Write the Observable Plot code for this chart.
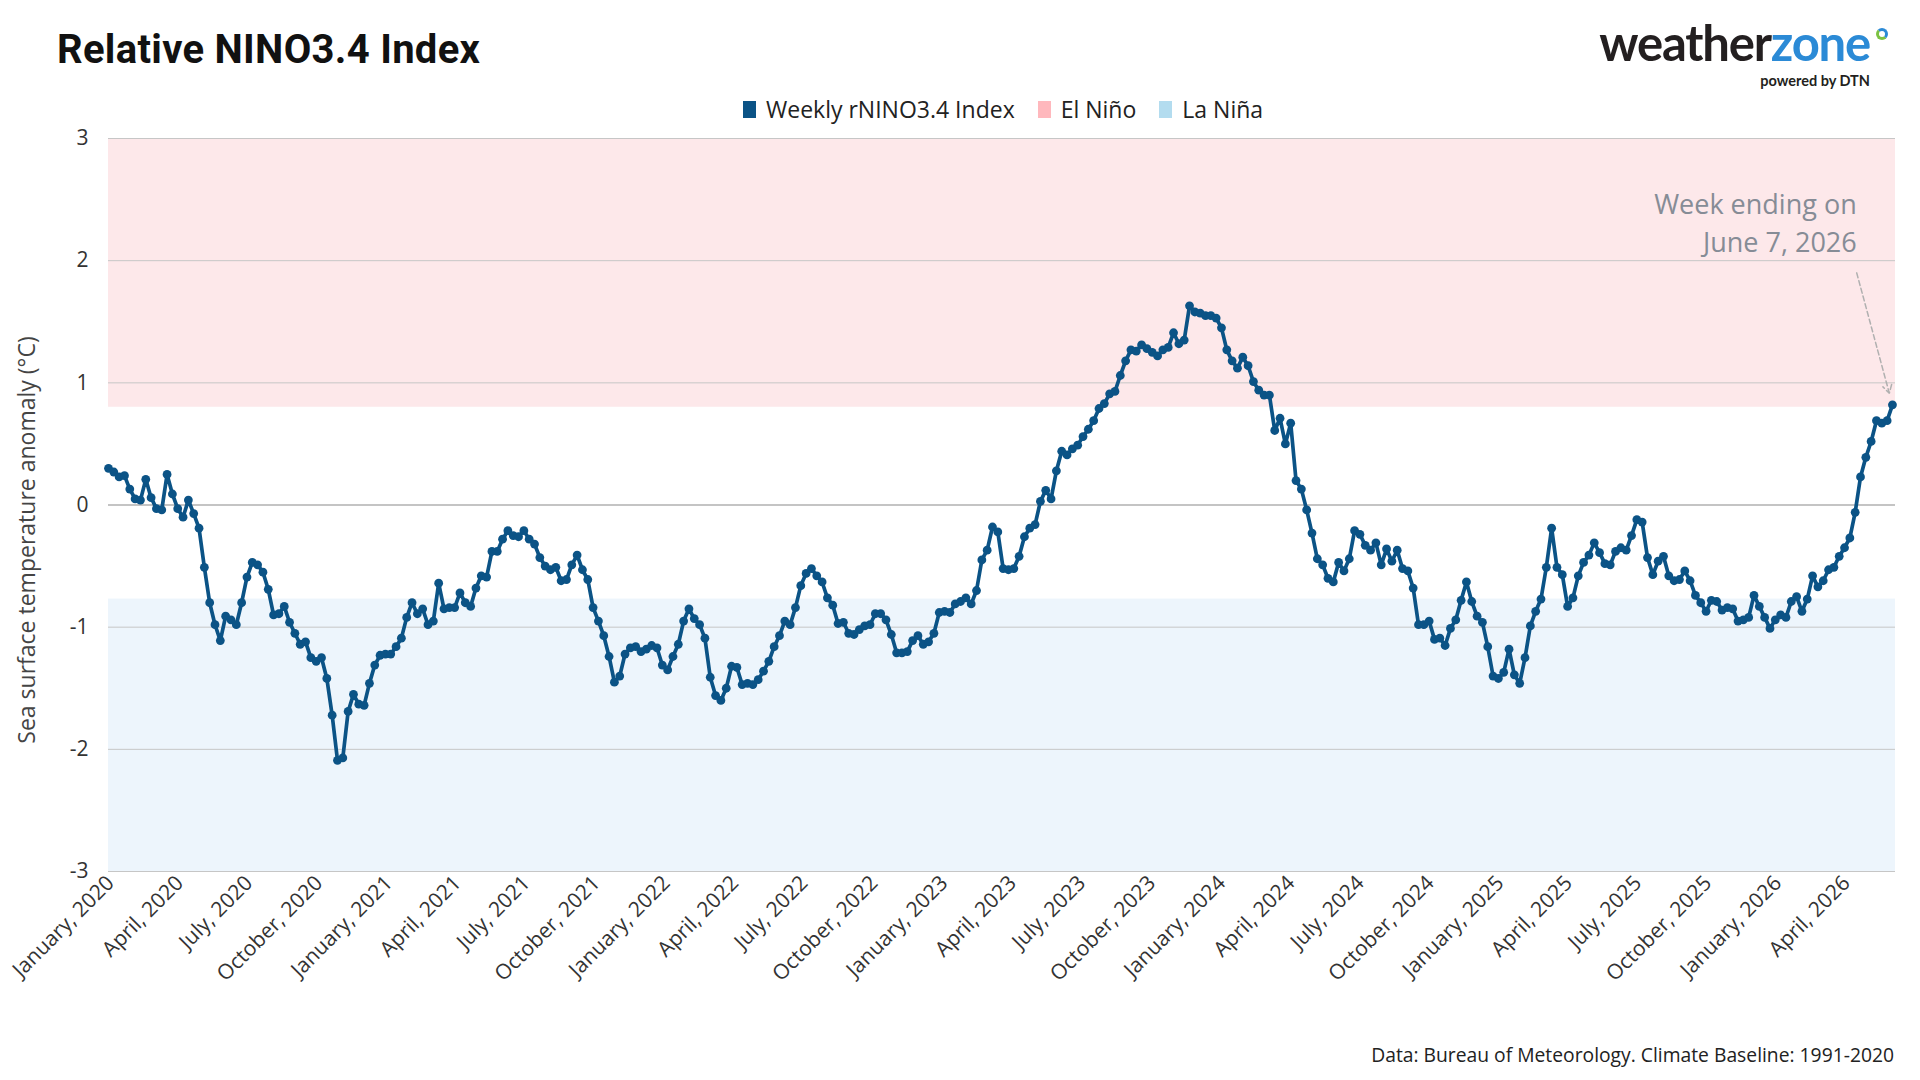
<!DOCTYPE html>
<html>
<head>
<meta charset="utf-8">
<script src="https://cdn.jsdelivr.net/npm/d3@7"></script>
<script src="https://cdn.jsdelivr.net/npm/@observablehq/plot@0.6"></script>
<style>
  html, body { margin: 0; padding: 0; background: #fff; }
  body { width: 1920px; height: 1080px; position: relative; overflow: hidden; font-family: "Open Sans", sans-serif; color: #222; }
  #title { position: absolute; left: 57px; top: 30px; font-family: "Roboto", sans-serif; font-weight: 700; font-size: 40px; line-height: 40px; letter-spacing: 0.3px; color: #111; white-space: nowrap; }
  #logo-word { position: absolute; right: 50px; top: 13px; font-family: "Lato", sans-serif; font-weight: 700; font-size: 49px; line-height: 58px; letter-spacing: -1.2px; white-space: nowrap; }
  #logo-word .w1 { color: #231f20; }
  #logo-word .w2 { color: #2b8ad6; }
  #logo-ring { position: absolute; left: 1876px; top: 28px; width: 6px; height: 6px; border-radius: 50%; border: 3px solid #2b8ad6; border-bottom-color: #7cc242; border-left-color: #7cc242; }
  #logo-sub { position: absolute; right: 50px; top: 72px; font-family: "Lato", sans-serif; font-weight: 700; font-size: 14.5px; line-height: 17px; color: #231f20; white-space: nowrap; }
  #legend { position: absolute; left: 743px; top: 94px; display: flex; align-items: center; font-size: 23px; line-height: 30px; color: #222; white-space: nowrap; }
  #legend .item { display: flex; align-items: center; margin-right: 23px; }
  #legend .sw { width: 13px; height: 17px; margin-right: 10px; }
  #chart { position: absolute; left: 0; top: 120px; }
  #caption { position: absolute; right: 26px; top: 1042px; font-size: 19.3px; line-height: 26px; color: #222; white-space: nowrap; }
</style>
</head>
<body>
<div id="title">Relative NINO3.4 Index</div>
<div id="logo-word"><span class="w1">weather</span><span class="w2">zone</span></div>
<span id="logo-ring"></span>
<div id="logo-sub">powered by DTN</div>
<div id="legend"></div>
<div id="chart"></div>
<div id="caption">Data: Bureau of Meteorology. Climate Baseline: 1991-2020</div>
<script>
// Weekly relative NINO3.4 index (°C), weeks ending on Sundays, starting 5 Jan 2020
const firstWeekEnding = "2020-01-05";
const values2020 = [0.30, 0.27, 0.23, 0.24, 0.13, 0.05, 0.04, 0.21, 0.06, -0.03, -0.04, 0.25, 0.09, -0.03, -0.10, 0.04, -0.07, -0.19, -0.51, -0.80, -0.98, -1.11, -0.91, -0.94, -0.98, -0.80, -0.59, -0.47, -0.49, -0.55, -0.69, -0.90, -0.89, -0.83, -0.96, -1.05, -1.14, -1.12, -1.25, -1.28, -1.25, -1.42, -1.72, -2.09, -2.07, -1.69, -1.55, -1.63, -1.64, -1.46, -1.31, -1.23];
const values2021 = [-1.22, -1.22, -1.16, -1.09, -0.92, -0.80, -0.89, -0.85, -0.98, -0.95, -0.64, -0.85, -0.84, -0.84, -0.72, -0.80, -0.83, -0.68, -0.58, -0.59, -0.38, -0.38, -0.28, -0.21, -0.25, -0.26, -0.21, -0.28, -0.32, -0.43, -0.50, -0.53, -0.51, -0.62, -0.61, -0.49, -0.41, -0.53, -0.61, -0.84, -0.95, -1.07, -1.24, -1.45, -1.40, -1.22, -1.17, -1.16, -1.20, -1.18, -1.15, -1.17];
const values2022 = [-1.31, -1.35, -1.24, -1.14, -0.95, -0.85, -0.93, -0.98, -1.09, -1.41, -1.56, -1.60, -1.50, -1.32, -1.33, -1.47, -1.46, -1.47, -1.43, -1.36, -1.28, -1.16, -1.07, -0.95, -0.98, -0.84, -0.66, -0.56, -0.52, -0.58, -0.63, -0.76, -0.82, -0.97, -0.96, -1.05, -1.06, -1.02, -0.99, -0.98, -0.89, -0.89, -0.94, -1.06, -1.21, -1.21, -1.20, -1.11, -1.07, -1.14, -1.12, -1.05];
const values2023 = [-0.88, -0.87, -0.88, -0.81, -0.79, -0.76, -0.81, -0.70, -0.45, -0.37, -0.18, -0.22, -0.52, -0.53, -0.52, -0.42, -0.26, -0.19, -0.16, 0.03, 0.12, 0.05, 0.28, 0.44, 0.41, 0.46, 0.49, 0.56, 0.62, 0.69, 0.79, 0.83, 0.91, 0.93, 1.06, 1.18, 1.27, 1.26, 1.31, 1.28, 1.25, 1.22, 1.27, 1.29, 1.41, 1.32, 1.35, 1.63, 1.58, 1.57, 1.55, 1.55, 1.53];
const values2024 = [1.45, 1.27, 1.18, 1.12, 1.21, 1.14, 1.01, 0.94, 0.90, 0.90, 0.61, 0.71, 0.50, 0.67, 0.20, 0.13, -0.04, -0.23, -0.44, -0.49, -0.60, -0.63, -0.47, -0.54, -0.44, -0.21, -0.24, -0.33, -0.37, -0.31, -0.49, -0.36, -0.46, -0.37, -0.52, -0.54, -0.68, -0.98, -0.98, -0.95, -1.10, -1.09, -1.15, -1.01, -0.94, -0.78, -0.63, -0.79, -0.91, -0.96, -1.16, -1.40];
const values2025 = [-1.42, -1.37, -1.18, -1.39, -1.46, -1.25, -0.99, -0.87, -0.77, -0.51, -0.19, -0.51, -0.57, -0.83, -0.76, -0.58, -0.47, -0.41, -0.31, -0.39, -0.48, -0.49, -0.38, -0.35, -0.37, -0.25, -0.12, -0.14, -0.43, -0.57, -0.46, -0.42, -0.58, -0.62, -0.61, -0.54, -0.62, -0.74, -0.80, -0.87, -0.78, -0.79, -0.86, -0.84, -0.85, -0.95, -0.94, -0.92, -0.74, -0.83, -0.92, -1.01];
const values2026 = [-0.94, -0.90, -0.92, -0.79, -0.75, -0.87, -0.77, -0.58, -0.67, -0.62, -0.53, -0.51, -0.42, -0.35, -0.27, -0.06, 0.23, 0.39, 0.52, 0.69, 0.67, 0.69, 0.82];

// Thresholds for the shaded bands
const elNinoThreshold = 0.8;
const laNinaThreshold = -0.77;

// Legend entries
const legendLabels = ["Weekly rNINO3.4 Index", "El Niño", "La Niña"];
const legendColors = ["#0b5386", "#ffb8bd", "#b3dcef"];

// Annotation / axis text
const annotationLines = ["Week ending on", "June 7, 2026"];
const yAxisTitle = "Sea surface temperature anomaly (°C)";
const yTicks = [-3, -2, -1, 0, 1, 2, 3];

const DAY = 864e5;
const start = new Date(firstWeekEnding + "T00:00:00Z");
const series = [...values2020, ...values2021, ...values2022, ...values2023, ...values2024, ...values2025, ...values2026];
const data = series.map((v, i) => ({date: new Date(+start + i * 7 * DAY), value: v}));
const last = data[data.length - 1];
const xTicks = d3.utcMonth.every(3).range(new Date(Date.UTC(2020, 0, 1)), last.date);

// Legend
const legend = document.getElementById("legend");
legendLabels.forEach((lab, i) => {
  const it = document.createElement("div");
  it.className = "item";
  const sw = document.createElement("span");
  sw.className = "sw";
  sw.style.background = legendColors[i];
  it.appendChild(sw);
  it.appendChild(document.createTextNode(lab));
  legend.appendChild(it);
});

const annotationDate = new Date(+last.date - 47 * DAY);

const chart = Plot.plot({
  width: 1920,
  height: 900,
  marginLeft: 108,
  marginRight: 25,
  marginTop: 18,
  marginBottom: 149,
  style: {fontFamily: "'Open Sans', sans-serif", fontSize: "20px", color: "#333", background: "transparent"},
  x: {type: "utc", domain: [start, new Date(+last.date + 4 * DAY)]},
  y: {domain: [-3, 3]},
  marks: [
    Plot.rect([{y1: elNinoThreshold, y2: 3}], {y1: "y1", y2: "y2", fill: "#fde8ea"}),
    Plot.rect([{y1: -3, y2: laNinaThreshold}], {y1: "y1", y2: "y2", fill: "#edf5fc"}),
    Plot.ruleY(yTicks.filter(d => d !== 0), {stroke: "#c6c6c6", strokeWidth: 1}),
    Plot.ruleY([0], {stroke: "#8a8a8a", strokeWidth: 1.2}),
    Plot.axisY({ticks: yTicks, tickFormat: d => (d < 0 ? "-" + Math.abs(d) : String(d)), tickSize: 0, tickPadding: 20, label: null, fontSize: 21, fill: "#333"}),
    Plot.axisX({ticks: xTicks, tickFormat: d3.utcFormat("%B, %Y"), tickRotate: -45, tickSize: 0, tickPadding: 8, dx: 5, label: null, fontSize: 21, fill: "#333"}),
    Plot.text([yAxisTitle], {frameAnchor: "left", textAnchor: "middle", rotate: -90, dx: -81, dy: 35, fontSize: 23, fill: "#444"}),
    Plot.lineY(data, {x: "date", y: "value", stroke: "#0b5386", strokeWidth: 3.7}),
    Plot.dot(data, {x: "date", y: "value", r: 4.4, fill: "#0b5386"}),
    Plot.arrow([last], {x1: () => annotationDate, y1: () => 1.9, x2: "date", y2: "value", stroke: "#b0b0b0", strokeWidth: 1.5, strokeDasharray: "5,3", headLength: 9, insetEnd: 12, bend: 0}),
    Plot.text([annotationLines.join("\n")], {x: () => annotationDate, y: () => 2.07, textAnchor: "end", lineAnchor: "bottom", lineHeight: 1.41, fontSize: 27, fill: "#868c96"})
  ]
});
document.getElementById("chart").appendChild(chart);
</script>
</body>
</html>
